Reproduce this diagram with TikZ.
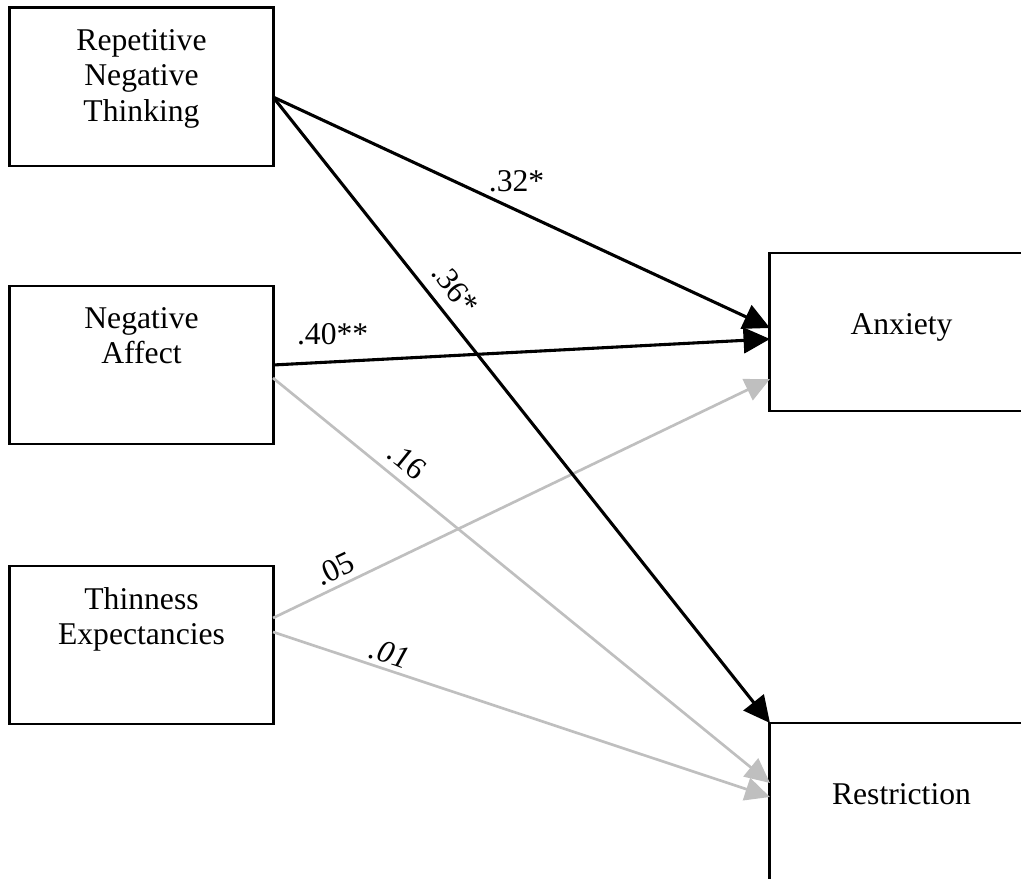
\documentclass[tikz,border=0pt]{standalone}
\usepackage{fontspec}
\setmainfont{Liberation Serif}
\usetikzlibrary{arrows.meta}
\definecolor{pathgray}{RGB}{191,191,191}

\begin{document}
\begin{tikzpicture}[x=0.025cm,y=-0.025cm]
\tikzset{
  varbox/.style={rectangle,draw=black,line width=2.1pt,minimum width=6.575cm,minimum height=3.95cm,inner sep=0pt,outer sep=0pt},
  boxtext/.style={font=\fontsize{22.5}{25.5}\selectfont,align=center,inner sep=0pt,anchor=north},
  coef/.style={font=\fontsize{22.5}{25.5}\selectfont,inner sep=2pt},
  sigpath/.style={draw=black,line width=2.2pt,line join=round,-{Triangle[length=0.66cm,width=0.64cm]}},
  nspath/.style={draw=pathgray,line width=1.9pt,line join=round,-{Triangle[length=0.62cm,width=0.58cm]}}
}
\useasboundingbox (0,0) rectangle (1021,879);
\clip (0,0) rectangle (1021,879);
\node[varbox] (n_rnt) at (141.5,87) {};
\node[varbox] (n_na) at (141.5,365) {};
\node[varbox] (n_te) at (141.5,645) {};
\node[varbox] (n_anx) at (901.5,332) {};
\node[varbox] (n_res) at (901.5,802) {};
\node[boxtext] (t_rnt) at ([yshift=-0.52cm]n_rnt.north) {Repetitive\\Negative\\Thinking};
\node[boxtext] (t_na) at ([yshift=-0.52cm]n_na.north) {Negative\\Affect};
\node[boxtext] (t_te) at ([yshift=-0.52cm]n_te.north) {Thinness\\Expectancies};
\node[boxtext] (t_anx) at ([yshift=-1.5cm]n_anx.north) {Anxiety};
\node[boxtext] (t_res) at ([yshift=-1.5cm]n_res.north) {Restriction};
% non-significant paths
\draw[nspath] ([yshift=-0.325cm]n_na.east) -- ([yshift=0.475cm]n_res.west) node[coef,sloped,above=4pt,pos=0.244] {.16};
\draw[nspath] ([yshift=0.675cm]n_te.east) -- ([yshift=-1.175cm]n_anx.west) node[coef,sloped,above=2pt,pos=0.14] {.05};
\draw[nspath] ([yshift=0.325cm]n_te.east) -- ([yshift=0.125cm]n_res.west) node[coef,sloped,above=1pt,pos=0.225] {\textit{.01}};
% significant paths
\draw[sigpath] ([yshift=-0.25cm]n_rnt.east) -- ([yshift=0.1cm]n_anx.west) node[coef,above=10pt,pos=0.49] {.32*};
\draw[sigpath] ([yshift=-0.25cm]n_rnt.east) -- (n_res.north west) node[coef,sloped,above=6pt,pos=0.33] {.36*};
\draw[sigpath] (n_na.east) -- ([yshift=-0.175cm]n_anx.west) node[coef,above=9pt,pos=0.12] {.40**};
\end{tikzpicture}
\end{document}
